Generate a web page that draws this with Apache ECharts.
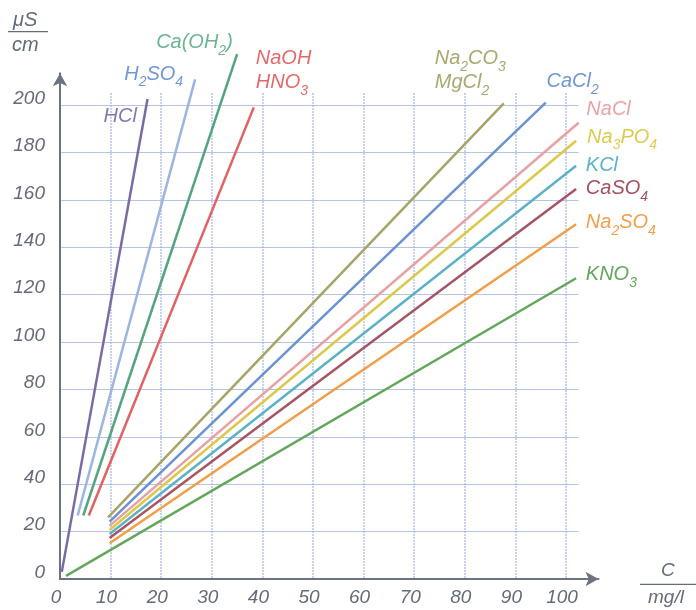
<!DOCTYPE html>
<html>
<head>
<meta charset="utf-8">
<script src="https://cdn.jsdelivr.net/npm/echarts@6/dist/echarts.min.js"></script>
<style>html,body{margin:0;padding:0;background:#fff}#c{width:696px;height:610px}</style>
</head>
<body>
<div id="c"></div>
<script>
// ---- data ----
const seriesNames = ['HCl','H2SO4','Ca(OH2)','NaOH / HNO3','Na2CO3 / MgCl2','CaCl2','NaCl','Na3PO4','KCl','CaSO4','Na2SO4','KNO3'];
const labelTexts = ['HCl','H{s|2}SO{s|4}','Ca(OH{s|2})','NaOH\nHNO{s|3}','Na{s|2}CO{s|3}\nMgCl{s|2}','CaCl{s|2}','NaCl','Na{s|3}PO{s|4}','KCl','CaSO{s|4}','Na{s|2}SO{s|4}','KNO{s|3}'];
const HCl      = [[0.35, 3.0], [17.3, 202.5]];
const H2SO4    = [[3.5, 26.8], [26.7, 210.8]];
const CaOH2    = [[4.6, 26.8], [35.0, 221.5]];
const NaOH     = [[5.7, 26.8], [38.3, 199.0]];
const Na2CO3   = [[9.5, 26.0], [87.7, 200.7]];
const CaCl2    = [[9.8, 24.2], [96.0, 201.0]];
const NaCl     = [[9.8, 22.4], [102.5, 192.5]];
const Na3PO4   = [[9.8, 20.7], [102.0, 184.9]];
const KCl      = [[9.8, 19.0], [102.0, 174.4]];
const CaSO4    = [[9.8, 17.3], [102.0, 164.6]];
const Na2SO4   = [[9.8, 15.1], [102.0, 149.7]];
const KNO3     = [[1.2, 1.3], [102.0, 126.9]];
const seriesData = [HCl, H2SO4, CaOH2, NaOH, Na2CO3, CaCl2, NaCl, Na3PO4, KCl, CaSO4, Na2SO4, KNO3];
const xRange = [0, 102.5];
const yRange = [0, 205];
const xInterval = 10;
const yInterval = 20;

// ---- styles ----
const lineColors  = ['#7b6ba5','#9bb4e2','#55a47f','#e06262','#a6a468','#6a91d0','#e8a0a2','#dcc84a','#5cb1c6','#a65565','#f09e48','#62a75a'];
const labelColors = ['#8378b0','#6f98d8','#6bb593','#e36a6a','#aaa870','#6f97d6','#e9a3a6','#dccb4d','#5db3c9','#a6505f','#f0a04b','#62a75a'];
const labelPos = [
  {align:'right', dx:-10.7, dy:17},
  {align:'right', dx:-12, dy:-5.3},
  {align:'right', dx:-4.3, dy:-11.5},
  {align:'left', dx:2, dy:-37},
  {align:'left', dx:-69, dy:-33},
  {align:'left', dx:0.7, dy:-21},
  {align:'left', dx:7.7, dy:-13.5},
  {align:'left', dx:11, dy:-3.7},
  {align:'left', dx:9.7, dy:-0.5},
  {align:'left', dx:9.7, dy:0},
  {align:'left', dx:9.7, dy:-1.8},
  {align:'left', dx:9.7, dy:-3.5}
];
const FONT = '"Liberation Sans", Arial, sans-serif';
const TXT = '#646c78';
const AX = '#6b7380';

const chart = echarts.init(document.getElementById('c'), null, {renderer:'canvas'});

const series = seriesData.map((d, i) => {
  const lp = labelPos[i];
  const pad = lp.dy > 0 ? [2*lp.dy, 0, 0, 0] : [0, 0, -2*lp.dy, 0];
  return {
    type: 'line',
    name: seriesNames[i],
    xAxisIndex: 0, yAxisIndex: 0,
    data: d,
    showSymbol: false,
    symbol: 'none',
    clip: false,
    silent: true,
    z: 2,
    lineStyle: {color: lineColors[i], width: 2.5},
    itemStyle: {color: lineColors[i]},
    emphasis: {disabled: true},
    endLabel: {
      show: true,
      formatter: () => labelTexts[i],
      align: lp.align,
      verticalAlign: 'middle',
      distance: lp.dx,
      padding: pad,
      color: labelColors[i],
      fontFamily: FONT, fontStyle: 'italic', fontWeight: 'normal',
      fontSize: 20, lineHeight: 24,
      rich: {
        s: {fontSize: 14, verticalAlign: 'bottom', height: 7, color: labelColors[i],
            fontFamily: FONT, fontStyle: 'italic', fontWeight: 'normal', lineHeight: 24}
      }
    }
  };
});

const axisLabelBase = {color: TXT, fontFamily: FONT, fontStyle: 'italic', fontWeight: 'normal', fontSize: 19};

chart.setOption({
  animation: false,
  backgroundColor: '#fff',
  grid: [
    {left: 60, top: 579 - 205*2.37, width: 102.5*5.06, height: 205*2.37, containLabel: false},
    {left: 60, top: 73.3, width: 538.5, height: 579 - 73.3, containLabel: false}
  ],
  xAxis: [
    {type:'value', gridIndex:0, min:xRange[0], max:xRange[1], interval:xInterval,
     axisLine:{show:false}, axisTick:{show:false},
     axisLabel: Object.assign({}, axisLabelBase, {margin: 9, padding:[0,8,0,0], showMaxLabel:false}),
     splitLine:{show:true, showMinLine:false, showMaxLine:false, lineStyle:{color:'#9fb2e6', width:1.5, type:'dotted'}}},
    {type:'value', gridIndex:1, min:0, max:1, axisLabel:{show:false}, axisTick:{show:false}, splitLine:{show:false},
     z: 5,
     axisLine:{show:true, symbol:['none','arrow'], symbolSize:[11,13], lineStyle:{color:AX, width:2}}}
  ],
  yAxis: [
    {type:'value', gridIndex:0, min:yRange[0], max:yRange[1], interval:yInterval,
     axisLine:{show:false}, axisTick:{show:false},
     axisLabel: Object.assign({}, axisLabelBase, {margin: 15, verticalAlign:'bottom', lineHeight: 13, showMaxLabel:false}),
     splitLine:{show:true, showMinLine:false, showMaxLine:false, lineStyle:{color:'#b6c4e8', width:1}}},
    {type:'value', gridIndex:1, min:0, max:1, axisLabel:{show:false}, axisTick:{show:false}, splitLine:{show:false},
     z: 5,
     axisLine:{show:true, symbol:['none','arrow'], symbolSize:[11,13], lineStyle:{color:AX, width:2}}}
  ],
  graphic: [
    {type:'text', left: 13, top: 10, style:{text:'μS', font:'italic 20px ' + FONT, fill: TXT}},
    {type:'line', shape:{x1:8, y1:31.7, x2:48, y2:31.7}, style:{stroke: TXT, lineWidth:1.2}},
    {type:'text', left: 12, top: 35, style:{text:'cm', font:'italic 20px ' + FONT, fill: TXT}},
    {type:'text', left: 661, top: 561, style:{text:'C', font:'italic 19px ' + FONT, fill: TXT}},
    {type:'line', shape:{x1:640, y1:584.3, x2:696, y2:584.3}, style:{stroke: TXT, lineWidth:1.2}},
    {type:'text', left: 648, top: 588, style:{text:'mg/l', font:'italic 19px ' + FONT, fill: TXT}}
  ],
  series: series
});
</script>
</body>
</html>
